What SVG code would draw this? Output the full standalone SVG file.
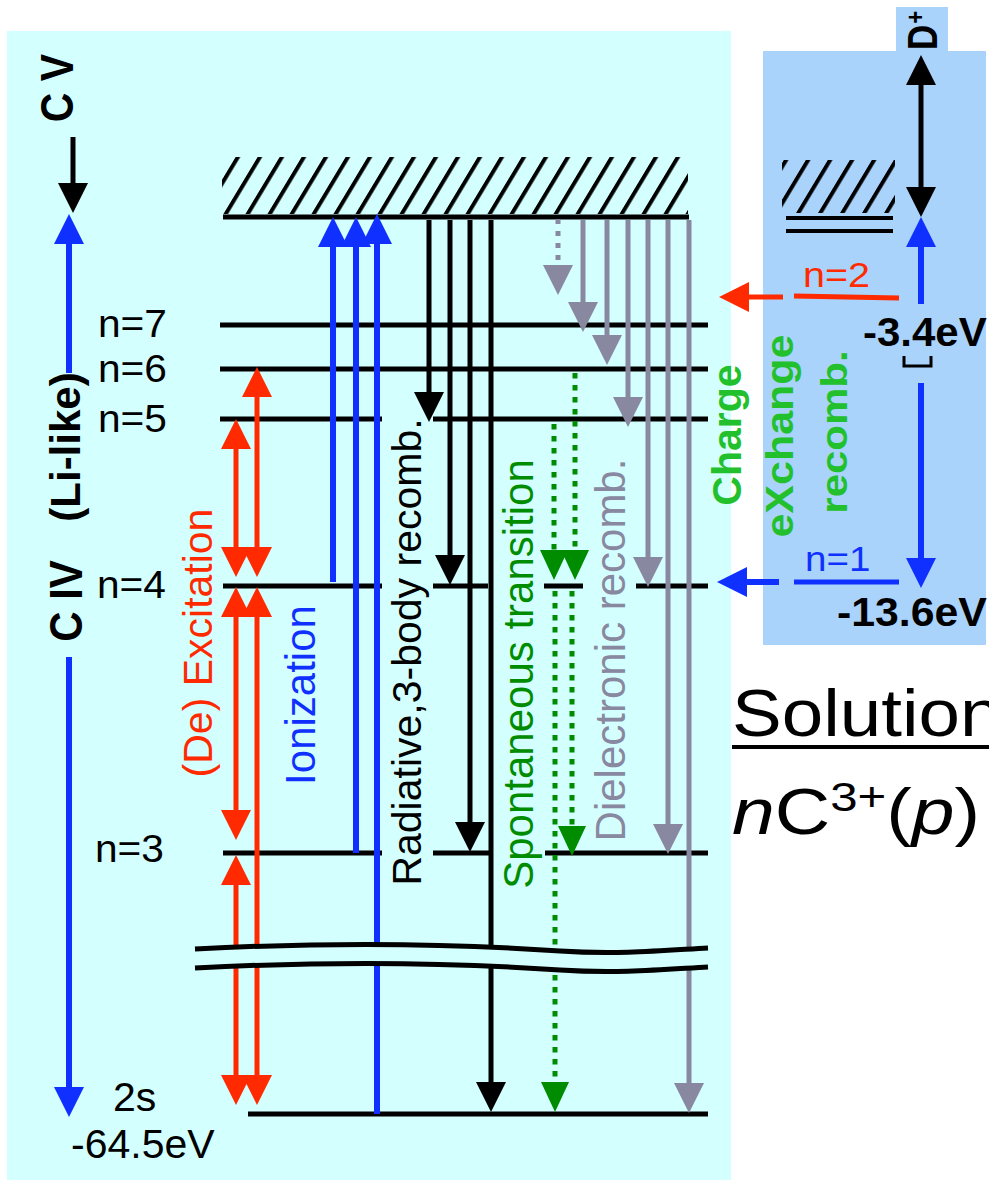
<svg xmlns="http://www.w3.org/2000/svg" width="989" height="1182" viewBox="0 0 989 1182">
<style>
text{font-family:"Liberation Sans",Arial,sans-serif;}
.lvl{stroke:#000;stroke-width:5;fill:none}
.bk{stroke:#000;stroke-width:5;fill:none;marker-end:url(#mBk)}
.bl{stroke:#1030ff;stroke-width:6;fill:none;marker-end:url(#mBl)}
.rd{stroke:#ff2a00;stroke-width:5;fill:none;marker-end:url(#mRd);marker-start:url(#mRd)}
.rd1{stroke:#ff2a00;stroke-width:5;fill:none;marker-end:url(#mRd)}
.gy{stroke:#8888a0;stroke-width:5;fill:none;marker-end:url(#mGy)}
.gn{stroke:#008c00;stroke-width:5;fill:none;stroke-dasharray:5.5 6.5;marker-end:url(#mGn)}
.b{font-weight:bold}
</style>
<defs>
<pattern id="hatch" width="22" height="10" patternUnits="userSpaceOnUse" patternTransform="skewX(-31)">
<rect x="0" y="0" width="4.6" height="10" fill="#000"/>
</pattern>
<marker id="mBk" viewBox="0 0 30 30" refX="4" refY="15" markerWidth="30" markerHeight="30" markerUnits="userSpaceOnUse" orient="auto-start-reverse"><path d="M0,0L30,15L0,30z" fill="#000"/></marker>
<marker id="mBl" viewBox="0 0 30 30" refX="4" refY="15" markerWidth="30" markerHeight="30" markerUnits="userSpaceOnUse" orient="auto-start-reverse"><path d="M0,0L30,15L0,30z" fill="#1030ff"/></marker>
<marker id="mRd" viewBox="0 0 30 30" refX="4" refY="15" markerWidth="30" markerHeight="30" markerUnits="userSpaceOnUse" orient="auto-start-reverse"><path d="M0,0L30,15L0,30z" fill="#ff2a00"/></marker>
<marker id="mGy" viewBox="0 0 30 30" refX="4" refY="15" markerWidth="30" markerHeight="30" markerUnits="userSpaceOnUse" orient="auto-start-reverse"><path d="M0,0L30,15L0,30z" fill="#8888a0"/></marker>
<marker id="mGn" viewBox="0 0 30 30" refX="4" refY="15" markerWidth="30" markerHeight="30" markerUnits="userSpaceOnUse" orient="auto-start-reverse"><path d="M0,1L30,15L0,29z" fill="#008c00"/></marker>
</defs>

<g id="backgrounds">
<rect x="7" y="31" width="724" height="1149" fill="#d4ffff"/>
<rect x="763" y="51" width="223" height="594" fill="#a9d3fb"/>
<rect x="896" y="7" width="52" height="44" fill="#a9d3fb"/>
</g>

<g id="levels">
<line class="lvl" x1="220" y1="325" x2="708" y2="325"/>
<line class="lvl" x1="220" y1="369" x2="708" y2="369"/>
<line class="lvl" x1="220" y1="419" x2="382" y2="419"/>
<line class="lvl" x1="433" y1="419" x2="708" y2="419"/>
<line class="lvl" x1="223" y1="586" x2="382" y2="586"/>
<line class="lvl" x1="433" y1="586" x2="488" y2="586"/>
<line class="lvl" x1="544" y1="586" x2="583" y2="586"/>
<line class="lvl" x1="636" y1="586" x2="708" y2="586"/>
<line class="lvl" x1="223" y1="853" x2="382" y2="853"/>
<line class="lvl" x1="433" y1="853" x2="489" y2="853"/>
<line class="lvl" x1="545" y1="853" x2="708" y2="853"/>
<line class="lvl" x1="248" y1="1114" x2="708" y2="1114"/>
</g>

<g id="continuum">
<rect x="222" y="157" width="466" height="57" fill="url(#hatch)"/>
<line class="lvl" x1="223" y1="217" x2="689" y2="217"/>
</g>

<g id="donor-continuum">
<rect x="782" y="160" width="113" height="53" fill="url(#hatch)"/>
<line x1="786" y1="218" x2="893" y2="218" stroke="#000" stroke-width="4"/>
<line x1="786" y1="231" x2="893" y2="231" stroke="#000" stroke-width="4"/>
</g>

<g id="donor-levels">
<line x1="794" y1="296" x2="899" y2="298" stroke="#ff2a00" stroke-width="5"/>
<line x1="794" y1="582" x2="899" y2="582" stroke="#1030ff" stroke-width="5"/>
<path d="M904,356V366H931V356" fill="none" stroke="#000" stroke-width="3"/>
</g>

<g id="connectors">
<line class="bk" x1="73" y1="137" x2="73" y2="187"/>
<line class="bl" x1="69" y1="373" x2="69" y2="240"/>
<line class="bl" x1="69" y1="657" x2="69" y2="1091"/>

<line class="rd" x1="236" y1="445" x2="236" y2="551"/>
<line class="rd" x1="236" y1="613" x2="236" y2="814"/>
<line class="rd" x1="236" y1="881" x2="236" y2="1079"/>
<line class="rd" x1="257" y1="393" x2="257" y2="551"/>
<line class="rd" x1="257" y1="613" x2="257" y2="1079"/>

<line class="bl" x1="333" y1="582" x2="333" y2="243"/>
<line class="bl" x1="356" y1="853" x2="356" y2="243"/>
<line class="bl" x1="377" y1="1114" x2="377" y2="240"/>

<line class="bk" x1="429" y1="220" x2="429" y2="396"/>
<line class="bk" x1="450" y1="220" x2="450" y2="559"/>
<line class="bk" x1="470" y1="220" x2="470" y2="826"/>
<line class="bk" x1="491" y1="220" x2="491" y2="1086"/>

<line class="gy" x1="558" y1="219" x2="558" y2="269" stroke-dasharray="5 7"/>
<line class="gy" x1="583" y1="220" x2="583" y2="306"/>
<line class="gy" x1="607" y1="220" x2="607" y2="339"/>
<line class="gy" x1="628" y1="220" x2="628" y2="401"/>
<line class="gy" x1="648" y1="220" x2="648" y2="561"/>
<line class="gy" x1="668" y1="220" x2="668" y2="828"/>
<line class="gy" x1="689" y1="220" x2="689" y2="1087"/>

<line class="gn" x1="554" y1="424" x2="554" y2="554"/>
<line class="gn" x1="575" y1="373" x2="575" y2="554"/>
<line class="gn" x1="572" y1="591" x2="572" y2="830"/>
<line class="gn" x1="555" y1="591" x2="555" y2="1086"/>

<line class="bk" x1="921" y1="81" x2="921" y2="191" marker-start="url(#mBk)"/>
<line class="bl" x1="921" y1="304" x2="921" y2="243"/>
<line class="bl" x1="921" y1="383" x2="921" y2="562"/>
<line class="bl" x1="779" y1="582" x2="743" y2="582"/>
<line class="rd1" x1="783" y1="297" x2="745" y2="297"/>
</g>

<g id="break">
<path d="M195,949C330,942 460,944 560,951C620,955 670,950 708,948L708,967C670,969 620,974 560,970C460,963 330,961 195,968Z" fill="#d4ffff"/>
<path d="M195,949C330,942 460,944 560,951C620,955 670,950 708,948" fill="none" stroke="#000" stroke-width="5"/>
<path d="M195,968C330,961 460,963 560,970C620,974 670,969 708,967" fill="none" stroke="#000" stroke-width="5"/>
</g>

<g id="ion-labels">
<text class="b" font-size="41" text-anchor="middle" transform="translate(73,88) scale(1.12,1) rotate(-90)">C V</text>
<text class="b" font-size="42" text-anchor="middle" transform="translate(80,447) rotate(-90)">(Li-like)</text>
<text class="b" font-size="42" text-anchor="middle" transform="translate(82,601) scale(1.1,1) rotate(-90)">C IV</text>
</g>

<g id="level-labels" font-size="38">
<text transform="translate(98,337) scale(1.07,1)">n=7</text>
<text transform="translate(98,382) scale(1.07,1)">n=6</text>
<text transform="translate(98,432) scale(1.07,1)">n=5</text>
<text transform="translate(97,598) scale(1.07,1)">n=4</text>
<text transform="translate(95,862) scale(1.07,1)">n=3</text>
<text font-size="41" x="113" y="1111">2s</text>
<text font-size="41" x="71" y="1158">-64.5eV</text>
</g>

<g id="process-labels" font-size="41" text-anchor="middle">
<text fill="#ff2a00" transform="translate(212,643) rotate(-90)">(De) Excitation</text>
<text fill="#1030ff" font-size="42" transform="translate(315,695) rotate(-90)">Ionization</text>
<text fill="#000" transform="translate(421,652) rotate(-90)">Radiative,3-body recomb.</text>
<text fill="#008c00" font-size="42" transform="translate(533,674) rotate(-90)">Spontaneous transition</text>
<text fill="#8888a0" font-size="42" transform="translate(625,650) rotate(-90)">Dielectronic recomb.</text>
</g>

<g id="cx-label" fill="#22c02c" text-anchor="middle">
<text class="b" font-size="41" transform="translate(741,435) rotate(-90)">Charge</text>
<text class="b" font-size="43" transform="translate(793,436) scale(0.9,1) rotate(-90)">eXchange</text>
<text class="b" font-size="42" transform="translate(847,432) scale(0.9,1) rotate(-90)">recomb.</text>
</g>

<g id="donor-labels">
<text class="b" font-size="35" transform="translate(937,50) scale(1.2,1) rotate(-90)">D<tspan font-size="22" dx="1" dy="-11">+</tspan></text>
<text class="b" font-size="40" transform="translate(863,346) scale(1.05,1)">-3.4eV</text>
<text class="b" font-size="40" transform="translate(837,626) scale(1.07,1)">-13.6eV</text>
<text fill="#ff2a00" font-size="35" transform="translate(803,287) scale(1.13,1)">n=2</text>
<text fill="#1030ff" font-size="35" transform="translate(805,571) scale(1.1,1)">n=1</text>
</g>

<g id="title">
<text font-size="66" transform="translate(732,736) scale(1.13,1)">Solution</text>
<rect x="732" y="745" width="257" height="4" fill="#000"/>
<text font-size="64" transform="translate(732,834) scale(1.2,1)"><tspan font-style="italic">n</tspan>C<tspan font-size="41" dy="-23">3+</tspan><tspan dy="23">(</tspan><tspan font-style="italic">p</tspan>)</text>
</g>
</svg>
